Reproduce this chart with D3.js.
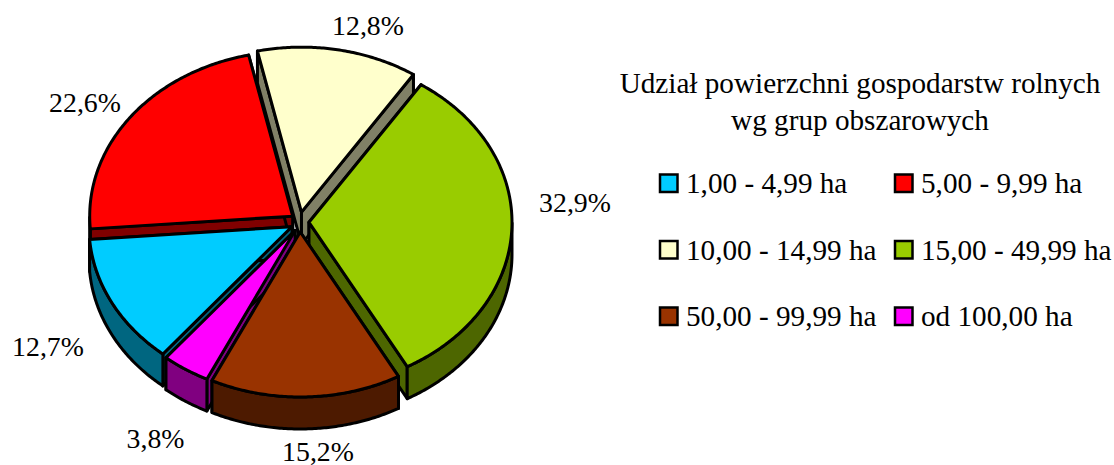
<!doctype html>
<html lang="pl">
<head>
	<meta charset="utf-8">
	<title>Udział powierzchni gospodarstw rolnych</title>
	<script src="https://d3js.org/d3.v7.min.js"></script>
	<style>
		body { margin: 0; background: #fff; }
		svg { display: block; }
		text { font-family: "Liberation Serif", serif; fill: #000; }
	</style>
</head>
<body>
	<script>
		var width = 1114;
		var height = 465;

		// data
		var categories = ["1,00 - 4,99 ha", "5,00 - 9,99 ha", "10,00 - 14,99 ha", "15,00 - 49,99 ha", "50,00 - 99,99 ha", "od 100,00 ha"];
		var shares = [12.7, 22.6, 12.8, 32.9, 15.2, 3.8];
		var shareLabels = ["12,7%", "22,6%", "12,8%", "32,9%", "15,2%", "3,8%"];
		var titleLines = ["Udział powierzchni gospodarstw rolnych", "wg grup obszarowych"];

		// styles and placing
		var topColors = ["#00ccff", "#ff0000", "#ffffcc", "#99cc00", "#993300", "#ff00ff"];
		var sideColors = ["#006680", "#800000", "#808066", "#4d6600", "#4d1a00", "#800080"];
		var labelAnchors = [[48, 356], [85, 112], [368, 35], [575, 212], [318, 461], [155.5, 448]];
		var drawOrder = [2, 1, 3, 0, 5, 4]; // back to front

		var cx = 300, cy = 222;
		var rx = 203, ry = 165;
		var depth = 32;
		var explodeX = 9, explodeY = 10;
		var start = 219.4 * Math.PI / 180;
		var backTwist = 1 * Math.PI / 180; // far side of the disc sits a little further round

		var svg = d3.select("body").append("svg")
			.attr("width", width)
			.attr("height", height)
			.attr("viewBox", "0 0 " + width + " " + height);

		var pie = d3.pie().sort(null).startAngle(start).endAngle(start + 2 * Math.PI);
		var slices = pie(shares);

		// tilted disc: unit circle to the page
		var px = d3.scaleLinear().domain([-1, 1]).range([-rx, rx]);
		var py = d3.scaleLinear().domain([-1, 1]).range([ry, -ry]);
		var line = d3.line();

		function arcPoints(s, ox, oy) {
			var n = Math.ceil((s.endAngle - s.startAngle) / 0.01);
			return d3.range(n + 1).map(function(i) {
				var a = s.startAngle + (s.endAngle - s.startAngle) * i / n;
				a += backTwist * (1 + Math.cos(a)) / 2;
				return [ox + px(Math.sin(a)), oy + py(Math.cos(a))];
			});
		}

		var pies = svg.append("g");

		drawOrder.forEach(function(i) {
			var s = slices[i];
			var mid = (s.startAngle + s.endAngle) / 2;
			var ox = cx + explodeX * Math.sin(mid);
			var oy = cy - explodeY * Math.cos(mid);
			var rim = arcPoints(s, ox, oy);
			var first = rim[0], last = rim[rim.length - 1];
			var g = pies.append("g")
				.attr("stroke", "#000")
				.attr("stroke-width", 3)
				.attr("stroke-linejoin", "round");

			// cut faces
			[first, last].forEach(function(p) {
				g.append("path")
					.attr("fill", sideColors[i])
					.attr("d", line([[ox, oy], p, [p[0], p[1] + depth], [ox, oy + depth]]) + "Z");
			});

			// rim wall, only the part facing the viewer
			var front = rim.filter(function(p) { return p[1] >= oy; });
			if (front.length > 1) {
				var lower = front.map(function(p) { return [p[0], p[1] + depth]; }).reverse();
				g.append("path")
					.attr("fill", sideColors[i])
					.attr("d", line(front.concat(lower)) + "Z");
			}

			// top
			g.append("path")
				.attr("fill", topColors[i])
				.attr("d", line([[ox, oy]].concat(rim)) + "Z");
		});

		// percent labels
		svg.selectAll("text.share")
			.data(shareLabels)
			.enter()
			.append("text")
			.attr("class", "share")
			.attr("x", function(d, i) { return labelAnchors[i][0]; })
			.attr("y", function(d, i) { return labelAnchors[i][1]; })
			.attr("text-anchor", "middle")
			.style("font-size", "27.8px")
			.text(function(d) { return d; });

		// title
		svg.selectAll("text.title")
			.data(titleLines)
			.enter()
			.append("text")
			.attr("class", "title")
			.attr("x", 860)
			.attr("y", function(d, i) { return 93 + i * 37; })
			.attr("text-anchor", "middle")
			.style("font-size", "29.2px")
			.text(function(d) { return d; });

		// legend
		var legend = svg.selectAll("g.legend")
			.data(categories)
			.enter()
			.append("g")
			.attr("class", "legend")
			.attr("transform", function(d, i) {
				return "translate(" + (i % 2 ? 894 : 659) + "," + (173.5 + Math.floor(i / 2) * 66.5) + ")";
			});

		legend.append("rect")
			.attr("x", 1)
			.attr("y", 1)
			.attr("width", 17.5)
			.attr("height", 17.5)
			.attr("fill", function(d, i) { return topColors[i]; })
			.attr("stroke", "#000")
			.attr("stroke-width", 2.5);

		legend.append("text")
			.attr("x", 27)
			.attr("y", 19.5)
			.style("font-size", "29.2px")
			.text(function(d) { return d; });
	</script>
</body>
</html>
